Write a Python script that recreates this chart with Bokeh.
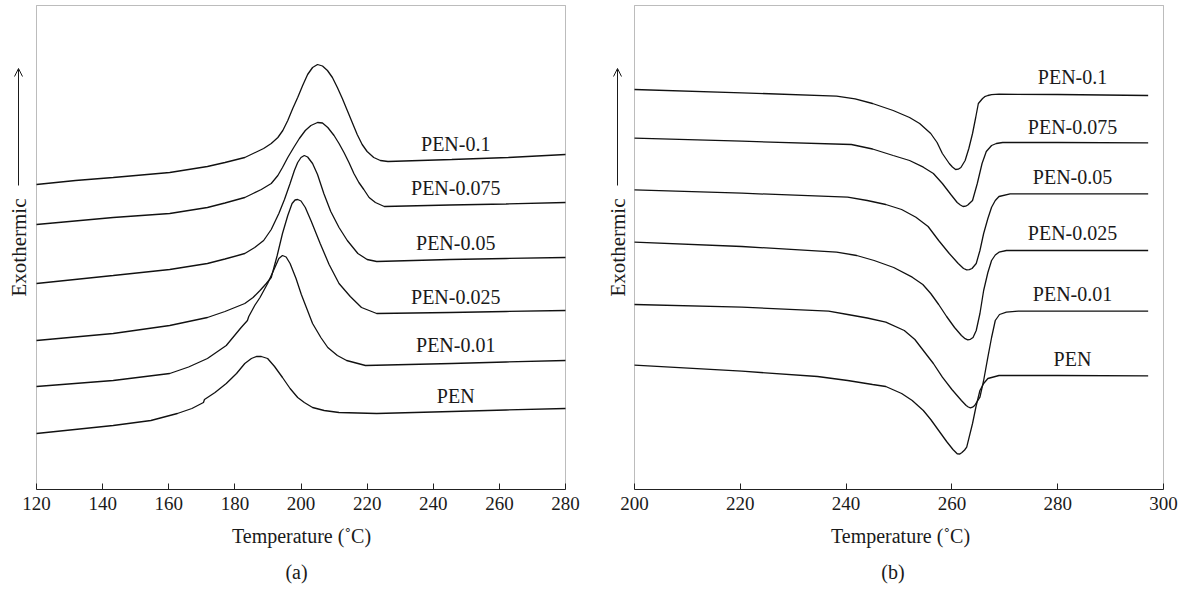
import math
from bokeh.plotting import figure
from bokeh.layouts import row
from bokeh.models import Range1d, Title, ColumnDataSource, BoxAnnotation, Arrow, OpenHead
from bokeh.core.properties import value
from bokeh.embed import file_html
from bokeh.resources import INLINE

FONT = "Liberation Serif"
INK = "#1a1a1a"

names = ["PEN-0.1", "PEN-0.075", "PEN-0.05", "PEN-0.025", "PEN-0.01", "PEN"]

# ---------------- panel (a): crystallization (heat flow, arbitrary units) ----------------
a_t_pen01 = [120, 131.8, 143.2, 160.3, 171.7, 177, 183, 188.7, 191, 193, 194.5, 196, 197.5, 199, 200.5, 202,
             203.5, 205, 206.5, 208, 209.5, 211, 212.5, 214, 215.5, 217, 218.5, 220, 222, 224, 226.3,
             245.6, 262.7, 280]
a_v_pen01 = [305, 309, 312, 317, 323, 327, 332, 341, 346, 352, 359, 369, 381, 392, 404, 415,
             422, 425, 423.5, 419, 412, 402, 391, 379, 367, 355, 345, 338, 332, 329, 328,
             330, 332, 335]

a_t_pen0075 = [120, 143.2, 160.3, 171.7, 177, 183, 185.5, 188, 191, 193, 194.4, 196, 197.8, 199.5, 201.3, 203,
               205, 206.5, 208.1, 210, 211.5, 213, 214.5, 216, 217.5, 219, 220.6, 222.5, 225.2, 245, 262, 280]
a_v_pen0075 = [265, 272, 276, 282, 286.5, 292, 296, 300, 306, 314, 322, 332, 342, 351, 359, 364,
               367, 366.5, 362, 354, 346, 337, 327, 316, 307, 300, 292, 287, 283, 284.5, 285.5, 287]

a_t_pen005 = [120, 143.2, 160.3, 171.7, 177, 183, 186, 188.7, 191, 193.3, 195, 196.7, 198, 199, 200, 201,
              202, 203.5, 205, 206.9, 209, 211.5, 214, 217.2, 220, 222.9, 245, 262, 280]
a_v_pen005 = [206, 214, 220, 226, 230.5, 236, 242, 249, 260, 276, 290, 306, 319, 327, 332, 334,
              332.5, 326, 315, 296, 278, 262, 249, 236, 230, 228, 230, 231, 232]

a_t_pen0025 = [120, 143.2, 160.3, 171.7, 177, 183, 185.5, 187.6, 189.5, 191, 192.8, 194.4, 196, 197.3, 198.2,
               199, 200, 201.3, 203, 205.8, 208.5, 211.5, 214.9, 218.3, 222.9, 245, 262, 280]
a_v_pen0025 = [149, 156, 164, 172, 178, 186, 192, 199, 206, 212, 234, 256, 274, 286, 289.5,
               290, 288.5, 282, 269, 246, 225, 206, 193, 182, 176, 177, 178, 179]

a_t_pen001 = [120, 143.2, 160.3, 166, 171.7, 177.4, 181.9, 183.8, 184.2, 186, 187.6, 189.9, 192.1, 193.3,
              194.4, 195.5, 196.7, 198.5, 200.1, 203.5, 206, 208.1, 211, 213.8, 219.5, 245.6, 262, 280]
a_v_pen001 = [103, 109, 116, 122.5, 131, 144, 162, 169, 173, 184, 192, 206, 222, 231,
              234, 232.5, 226, 211, 195, 166, 152, 142, 134, 129, 124, 126, 127.5, 129]

a_t_pen = [120, 143.2, 154.6, 162.6, 167, 170.5, 170.8, 174, 177.4, 180.5, 183, 185, 186.5, 188,
           189.9, 192, 194.4, 196.7, 199, 201, 203.5, 207, 211.5, 222.9, 245.6, 262, 280]
a_v_pen = [56, 64, 69, 76, 81, 87, 90, 97, 106, 116, 126, 131, 133, 133,
           131, 123, 112, 101, 92, 87, 82, 79, 77, 76, 78, 79.5, 81]

a_label_t = [246.8, 246.8, 246.8, 246.8, 246.8, 246.8]
a_label_v = [345.7, 301.7, 246.7, 193, 144.7, 94]
a_ticks = [120, 140, 160, 180, 200, 220, 240, 260, 280]

# ---------------- panel (b): melting ----------------
b_t_pen01 = [200, 220.3, 238.2, 241.7, 245, 248.9, 252, 253.9, 256, 257.2, 258.2, 259.5, 260.1, 260.7,
             261.2, 261.7, 262.5, 263.2, 263.9, 264.5, 265, 265.8, 266.2, 266.8, 267.5, 268.9, 280, 297.1]
b_v_pen01 = [400, 396.7, 393.3, 390.7, 386, 379, 372, 366, 356, 347, 336, 326, 322.5, 320,
             320.3, 322, 329, 341, 356, 372, 386, 391, 392.8, 394, 394.8, 395.3, 395, 394]

b_t_pen0075 = [200, 220.3, 241, 245, 248.9, 252, 254.6, 256.5, 258.2, 259.8, 261, 261.6, 262.1, 262.6,
               263, 263.9, 264.8, 265.7, 266.5, 267.5, 268.4, 269.6, 280, 297.1]
b_v_pen0075 = [351.3, 348.3, 345, 340.5, 334, 329, 322.3, 316, 306, 295, 287, 284.5, 283, 283.3,
               284.5, 289, 306, 326, 338, 344, 346, 347, 347, 346.7]

b_t_pen005 = [200, 220.3, 240.3, 244, 247.5, 250.5, 253.2, 255.5, 257.5, 259.5, 261.2, 262.2, 262.8,
              263.3, 263.8, 264.6, 265.3, 266, 266.8, 267.5, 268.2, 268.9, 271, 297.1]
b_v_pen005 = [299.7, 296.3, 292.3, 289, 285, 280, 272.3, 263, 249, 236, 226, 221, 219.7,
              219.8, 221, 226, 239, 256, 271, 282.3, 289, 293, 295.7, 295.7]

b_t_pen0025 = [200, 220.3, 238.2, 242, 245.3, 249, 252.5, 254.5, 256, 257.5, 259, 260.5, 261.8, 262.5,
               263, 263.5, 264, 264.6, 265.3, 266, 266.8, 267.5, 268.2, 268.9, 270.3, 297.1]
b_v_pen0025 = [247.3, 243, 237.3, 234, 229, 222, 212.3, 205, 196, 185, 173, 162, 154, 150.8,
               149.7, 150.2, 152, 159, 176, 199, 217, 229, 234.5, 237.3, 239, 239]

b_t_pen001 = [200, 220.3, 236.7, 240.3, 244, 247.5, 251, 253, 254.6, 256.5, 258.2, 260, 261.8, 262.7,
              263.1, 263.5, 263.9, 264.3, 265.3, 266, 266.8, 267.5, 268.2, 269, 270.3, 272.5, 297.1]
b_v_pen001 = [185, 182.3, 178.3, 175, 171.5, 167.3, 159, 150, 139, 126, 112.3, 100, 89, 84,
              82.5, 81.7, 82.3, 84, 92.3, 109, 132.3, 152, 169, 175, 177.3, 178.3, 178.3]

b_t_pen = [200, 220.3, 234.6, 240.3, 245, 247.5, 250.5, 252.5, 254.6, 256, 257.5, 259, 260.2, 261,
           261.5, 261.9, 262.4, 262.8, 263.9, 264.6, 265.3, 266, 266.8, 268.9, 280, 297.1]
b_v_pen = [124.3, 118.3, 113, 109, 105, 103, 96, 89, 79, 70, 59, 48, 40, 35.7,
           35.5, 37, 39.5, 42.3, 66, 84, 99, 106, 111, 114, 114, 113.7]

b_label_t = [282.8, 282.8, 282.8, 282.8, 282.8, 282.8]
b_label_v = [413, 363, 313, 257, 196, 131]
b_ticks = [200, 220, 240, 260, 280, 300]

# plot-box value range (arbitrary units) and the y-label decoration positions
Y_TOP = 484
Y_RANGE = (0, 485)
YLABEL_V = 242
ARROW_V = (304, 421)

FIG_H = 593
FRAME_TOP = 4
PAD = "\u00a0"


def make_panel(xlim, frame_w_plot, left_gap, ticks, series, lab_t, lab_v, caption, cap_pad,
               width):
    x0, x1 = xlim
    k = frame_w_plot / (x1 - x0)            # pixels per degree
    xr = Range1d(x0 - left_gap / k, x1 + 2 / k)
    frame_w = left_gap + frame_w_plot + 2
    p = figure(width=width, height=FIG_H, x_range=xr, y_range=Range1d(*Y_RANGE),
               output_backend="svg", toolbar_location=None, y_axis_location=None,
               min_border_left=0, min_border_right=width - frame_w,
               min_border_top=FRAME_TOP, min_border_bottom=FIG_H - FRAME_TOP - (Y_RANGE[1] - Y_RANGE[0]))
    p.background_fill_color = "white"
    p.border_fill_color = "white"
    p.outline_line_color = None
    p.xgrid.visible = False
    p.ygrid.visible = False

    p.add_layout(BoxAnnotation(left=x0, right=x1, bottom=0, top=Y_TOP, fill_color=None,
                               line_color="#222222", line_width=1))

    for t, v in series:
        p.line(t, v, line_color="#111111", line_width=1.3)

    src = ColumnDataSource(dict(x=lab_t, y=lab_v, text=names))
    p.text(x="x", y="y", text="text", source=src, text_align="center", text_baseline="middle",
           text_font=value(FONT), text_font_size=value("20px"), text_color=INK)

    # rotated "Exothermic" with upward arrow, left of the plot box
    xl = x0 - (left_gap / 2) / k
    p.text(x=[xl], y=[YLABEL_V], text=["Exothermic"], angle=math.pi / 2,
           text_align="center", text_baseline="middle",
           text_font=value(FONT), text_font_size=value("21px"), text_color=INK)
    p.add_layout(Arrow(end=OpenHead(size=8, line_width=1, line_color=INK),
                       x_start=xl, y_start=ARROW_V[0], x_end=xl, y_end=ARROW_V[1],
                       line_width=1, line_color=INK))

    xa = p.xaxis[0]
    xa.ticker = ticks
    xa.bounds = (x0, x1)
    xa.major_tick_in = 6
    xa.major_tick_out = 0
    xa.minor_tick_line_color = None
    xa.axis_line_color = "#222222"
    xa.major_tick_line_color = "#222222"
    xa.major_label_standoff = 7
    xa.major_label_text_font = FONT
    xa.major_label_text_font_size = "19px"
    xa.major_label_text_color = INK
    xa.axis_label = PAD * 7 + "Temperature (\u02daC)"
    xa.axis_label_text_font = FONT
    xa.axis_label_text_font_size = "20px"
    xa.axis_label_text_font_style = "normal"
    xa.axis_label_text_color = INK
    xa.axis_label_standoff = 12

    p.add_layout(Title(text=PAD * cap_pad + caption, align="center", text_font=FONT,
                       text_font_size="20px", text_font_style="normal", text_color=INK,
                       standoff=19), "below")
    return p


pa = make_panel((120, 280), 529, 36, a_ticks,
                [(a_t_pen01, a_v_pen01), (a_t_pen0075, a_v_pen0075), (a_t_pen005, a_v_pen005),
                 (a_t_pen0025, a_v_pen0025), (a_t_pen001, a_v_pen001), (a_t_pen, a_v_pen)],
                a_label_t, a_label_v, "(a)", 5, 600)

pb = make_panel((200, 300), 529, 34, b_ticks,
                [(b_t_pen01, b_v_pen01), (b_t_pen0075, b_v_pen0075), (b_t_pen005, b_v_pen005),
                 (b_t_pen0025, b_v_pen0025), (b_t_pen001, b_v_pen001), (b_t_pen, b_v_pen)],
                b_label_t, b_label_v, "(b)", 4, 582)

layout = row(pa, pb)
open("out.html", "w").write(file_html(layout, INLINE))
